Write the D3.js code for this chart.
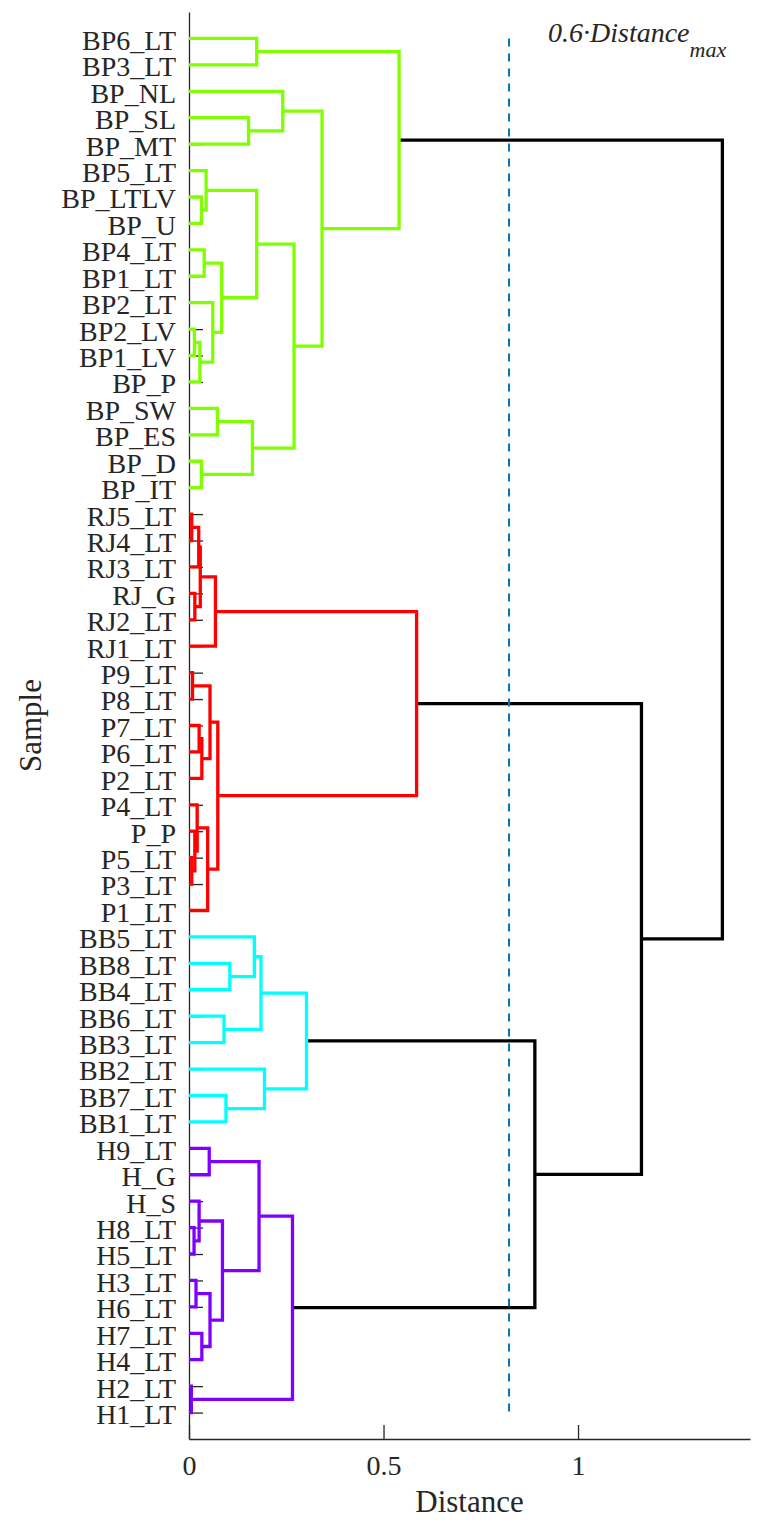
<!DOCTYPE html>
<html>
<head>
<meta charset="utf-8">
<script src="https://cdn.jsdelivr.net/npm/d3@7"></script>
<style>
  body { margin: 0; background: #fff; }
  text { font-family: "Liberation Serif", "Times New Roman", serif; fill: #262626; }
</style>
</head>
<body>
<div id="chart"></div>
<script>
// leaf order, top to bottom
var leafNames = [
  "BP6_LT","BP3_LT","BP_NL","BP_SL","BP_MT","BP5_LT","BP_LTLV","BP_U","BP4_LT","BP1_LT",
  "BP2_LT","BP2_LV","BP1_LV","BP_P","BP_SW","BP_ES","BP_D","BP_IT",
  "RJ5_LT","RJ4_LT","RJ3_LT","RJ_G","RJ2_LT","RJ1_LT","P9_LT","P8_LT","P7_LT","P6_LT",
  "P2_LT","P4_LT","P_P","P5_LT","P3_LT","P1_LT",
  "BB5_LT","BB8_LT","BB4_LT","BB6_LT","BB3_LT","BB2_LT","BB7_LT","BB1_LT",
  "H9_LT","H_G","H_S","H8_LT","H5_LT","H3_LT","H6_LT","H7_LT","H4_LT","H2_LT","H1_LT"
];

// linkage: [id, upper child, lower child, distance]
var greenMerges = [
  ["g0","BP6_LT","BP3_LT",0.174],
  ["g1","BP_SL","BP_MT",0.153],
  ["g2","BP_NL","g1",0.241],
  ["g3","BP_LTLV","BP_U",0.032],
  ["g4","BP5_LT","g3",0.044],
  ["g5","BP4_LT","BP1_LT",0.039],
  ["g6","BP2_LV","BP1_LV",0.014],
  ["g7","g6","BP_P",0.028],
  ["g8","BP2_LT","g7",0.061],
  ["g9","g5","g8",0.084],
  ["g10","g4","g9",0.174],
  ["g11","BP_SW","BP_ES",0.073],
  ["g12","BP_D","BP_IT",0.032],
  ["g13","g11","g12",0.163],
  ["g14","g10","g13",0.270],
  ["g15","g2","g14",0.342],
  ["g16","g0","g15",0.540]
];
var redMerges = [
  ["r0","RJ5_LT","RJ4_LT",0.007],
  ["r1","r0","RJ3_LT",0.025],
  ["r2","RJ_G","RJ2_LT",0.015],
  ["r3","r1","r2",0.029],
  ["r4","r3","RJ1_LT",0.068],
  ["r5","P9_LT","P8_LT",0.009],
  ["r6","P7_LT","P6_LT",0.026],
  ["r7","r6","P2_LT",0.033],
  ["r8","r5","r7",0.054],
  ["r9","P5_LT","P3_LT",0.007],
  ["r10","P_P","r9",0.015],
  ["r11","P4_LT","r10",0.021],
  ["r12","r11","P1_LT",0.048],
  ["r13","r8","r12",0.074],
  ["r14","r4","r13",0.585]
];
var cyanMerges = [
  ["c0","BB8_LT","BB4_LT",0.105],
  ["c1","BB5_LT","c0",0.168],
  ["c2","BB6_LT","BB3_LT",0.090],
  ["c3","c1","c2",0.185],
  ["c4","BB7_LT","BB1_LT",0.095],
  ["c5","BB2_LT","c4",0.194],
  ["c6","c3","c5",0.302]
];
var purpleMerges = [
  ["p0","H9_LT","H_G",0.052],
  ["p1","H8_LT","H5_LT",0.013],
  ["p2","H_S","p1",0.026],
  ["p3","H3_LT","H6_LT",0.018],
  ["p4","H7_LT","H4_LT",0.033],
  ["p5","p3","p4",0.054],
  ["p6","p2","p5",0.086],
  ["p7","p0","p6",0.180],
  ["p8","H2_LT","H1_LT",0.006],
  ["p9","p7","p8",0.266]
];
var topMerges = [
  ["t0","c6","p9",0.889],
  ["t1","r14","t0",1.163],
  ["t2","g16","t1",1.371]
];

var clusterColors = ["#80FF00", "#FF0000", "#00FFFF", "#8000FF"];
var xTicks = [0, 0.5, 1];
var cutoffFactor = 0.6;
var xMax = 1.442;

chart("#chart");

function chart(id) {
  var width = 775, height = 1529;
  var margin = { top: 12, right: 25, bottom: 90, left: 189 };

  var svg = d3.select(id).append("svg")
    .attr("width", width)
    .attr("height", height);

  // build tree
  var nodes = {};
  leafNames.forEach(function(n) { nodes[n] = { name: n, dist: 0 }; });
  var all = greenMerges.concat(redMerges, cyanMerges, purpleMerges, topMerges);
  all.forEach(function(m) {
    nodes[m[0]] = { name: m[0], dist: m[3], children: [nodes[m[1]], nodes[m[2]]] };
  });
  var root = d3.hierarchy(nodes[all[all.length - 1][0]]);

  var x = d3.scaleLinear().domain([0, xMax]).range([margin.left, width - margin.right]);
  var y = d3.scaleLinear().domain([0, leafNames.length + 1]).range([margin.top, height - margin.bottom]);

  var maxDist = root.data.dist;
  var cutoff = cutoffFactor * maxDist;

  // positions
  root.eachAfter(function(d) {
    if (!d.children) d.py = y(leafNames.indexOf(d.data.name) + 1);
    else d.py = d3.mean(d.children, function(c) { return c.py; });
    d.px = x(d.data.dist);
  });

  // colours: clusters below cutoff, top to bottom
  var k = 0;
  root.eachBefore(function(d) {
    if (d.data.dist >= cutoff && d.children) d.color = "#000000";
    else if (d.parent && d.parent.color === "#000000") d.color = clusterColors[k++];
    else d.color = d.parent ? d.parent.color : "#000000";
  });

  // axes
  var yAxis = d3.axisLeft(y)
    .tickValues(d3.range(1, leafNames.length + 1))
    .tickFormat(function(i) { return leafNames[i - 1]; })
    .tickSize(-14).tickSizeOuter(0).tickPadding(13);
  var gy = svg.append("g").attr("transform", "translate(" + margin.left + ",0)").call(yAxis);
  gy.selectAll("text").attr("dy", "0.39em").style("font-size", "28px");

  var xAxis = d3.axisBottom(x).tickValues(xTicks).tickFormat(d3.format("")).tickSize(-14).tickSizeOuter(0).tickPadding(16);
  var gx = svg.append("g").attr("transform", "translate(0," + y.range()[1] + ")").call(xAxis);
  gx.selectAll("text").style("font-size", "28px");

  [gx, gy].forEach(function(g) {
    g.select(".domain").attr("stroke", "#262626").attr("stroke-width", 1.3);
    g.selectAll(".tick line").attr("stroke", "#262626").attr("stroke-width", 1.3);
  });

  // links
  svg.append("g").selectAll("path")
    .data(root.descendants().filter(function(d) { return d.children; }))
    .join("path")
    .attr("fill", "none")
    .attr("stroke", function(d) { return d.color; })
    .attr("stroke-width", 3.3)
    .attr("d", function(d) {
      var a = d.children[0], b = d.children[1];
      return "M" + a.px + "," + a.py + "H" + d.px + "V" + b.py + "H" + b.px;
    });

  // cutoff line
  svg.append("line")
    .attr("x1", x(cutoff)).attr("x2", x(cutoff))
    .attr("y1", y(1)).attr("y2", y(leafNames.length))
    .attr("stroke", "#0072BD")
    .attr("stroke-width", 2)
    .attr("stroke-dasharray", "8,7");

  var lab = svg.append("text")
    .attr("x", x(cutoff) + 39).attr("y", 42)
    .style("font-size", "28px")
    .style("font-style", "italic");
  lab.append("tspan").text("0.6·Distance");
  lab.append("tspan").attr("dy", 15).style("font-size", "22px").text("max");

  // titles
  svg.append("text")
    .attr("x", (x.range()[0] + x.range()[1]) / 2).attr("y", 1512)
    .attr("text-anchor", "middle")
    .style("font-size", "31px")
    .text("Distance");

  svg.append("text")
    .attr("transform", "translate(41," + (y.range()[0] + y.range()[1]) / 2 + ") rotate(-90)")
    .attr("text-anchor", "middle")
    .style("font-size", "31px")
    .text("Sample");
}
</script>
</body>
</html>
